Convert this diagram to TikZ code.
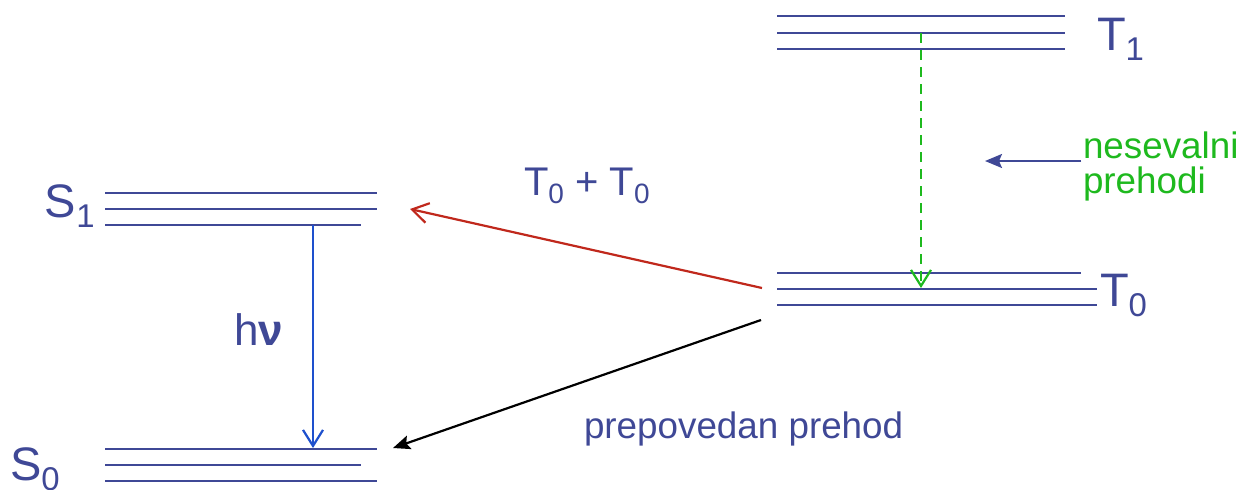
\documentclass[tikz,border=0pt]{standalone}
\usepackage{fontspec}
\setmainfont{Liberation Sans}
\usetikzlibrary{arrows.meta}
\definecolor{lvl}{RGB}{63,72,150}
\definecolor{grn}{RGB}{30,185,30}
\definecolor{hvblue}{RGB}{30,80,205}
\definecolor{redarr}{RGB}{192,40,28}
\newcommand{\sbs}[1]{\raisebox{-0.22em}{\scalebox{0.7}{#1}}}
\tikzset{
  level/.style={draw=lvl, line width=2.2pt},
  lbl/.style={anchor=base west, inner sep=0pt, outer sep=0pt, text=lvl},
  openarr/.style={line width=2.2pt, -{Straight Barb[length=16pt,width=20pt,line width=2.2pt]}},
  fillarr/.style={line width=2.2pt, -{Stealth[length=17pt,width=14pt,inset=3pt]}},
}
\begin{document}
\begin{tikzpicture}[x=1pt,y=-1pt]
\useasboundingbox (0,0) rectangle (1243,490);
% S1 level
\draw[level] (105,193) -- (377,193);
\draw[level] (105,209) -- (377,209);
\draw[level] (105,225) -- (361,225);
% S0 level
\draw[level] (105,449) -- (377,449);
\draw[level] (105,465) -- (361,465);
\draw[level] (105,481) -- (377,481);
% T1 level
\draw[level] (777,16) -- (1065,16);
\draw[level] (777,33) -- (1065,33);
\draw[level] (777,49) -- (1065,49);
% T0 level
\draw[level] (777,273) -- (1081,273);
\draw[level] (777,289) -- (1097,289);
\draw[level] (777,305) -- (1097,305);

% labels
\node[lbl, font=\fontsize{47}{50}\selectfont] (S1) at (45,217) {S\sbs{1}};
\node[lbl, font=\fontsize{47}{50}\selectfont] (S0) at (10,480) {S\sbs{0}};
\node[lbl, font=\fontsize{47}{50}\selectfont] (T1) at (1097,50) {T\sbs{1}};
\node[lbl, font=\fontsize{47}{50}\selectfont] (T0) at (1100,306) {T\sbs{0}};
\node[lbl, font=\fontsize{40}{44}\selectfont] (TT) at (524,195) {T\sbs{0} + T\sbs{0}};
\node[lbl, font=\fontsize{44}{48}\selectfont] (hv) at (234,345) {h\textbf{ν}};
\node[lbl, font=\fontsize{36.8}{40}\selectfont] (pp) at (584,438) {prepovedan prehod};
\node[lbl, font=\fontsize{36.8}{40}\selectfont, text=grn, align=left] (ns) at (1083,193) {nesevalni\\[-5pt]prehodi};

% arrow end points
\coordinate (hvA) at (313,225);
\coordinate (hvB) at (313,448);
\coordinate (gA) at (921,33);
\coordinate (gB) at (921,288);
\coordinate (rA) at (762,288);
\coordinate (rB) at (410,209);
\coordinate (kA) at (761,320);
\coordinate (kB) at (393,448);
\coordinate (bA) at (1081,161);
\coordinate (bB) at (985,161);

\draw[openarr, draw=hvblue] (hvA) -- (hvB);
\draw[openarr, draw=grn, dash pattern=on 10pt off 7pt] (gA) -- (gB);
\draw[openarr, draw=redarr] (rA) -- (rB);
\draw[fillarr, draw=black, fill=black] (kA) -- (kB);
\draw[fillarr, draw=lvl, fill=lvl] (bA) -- (bB);
\end{tikzpicture}
\end{document}
